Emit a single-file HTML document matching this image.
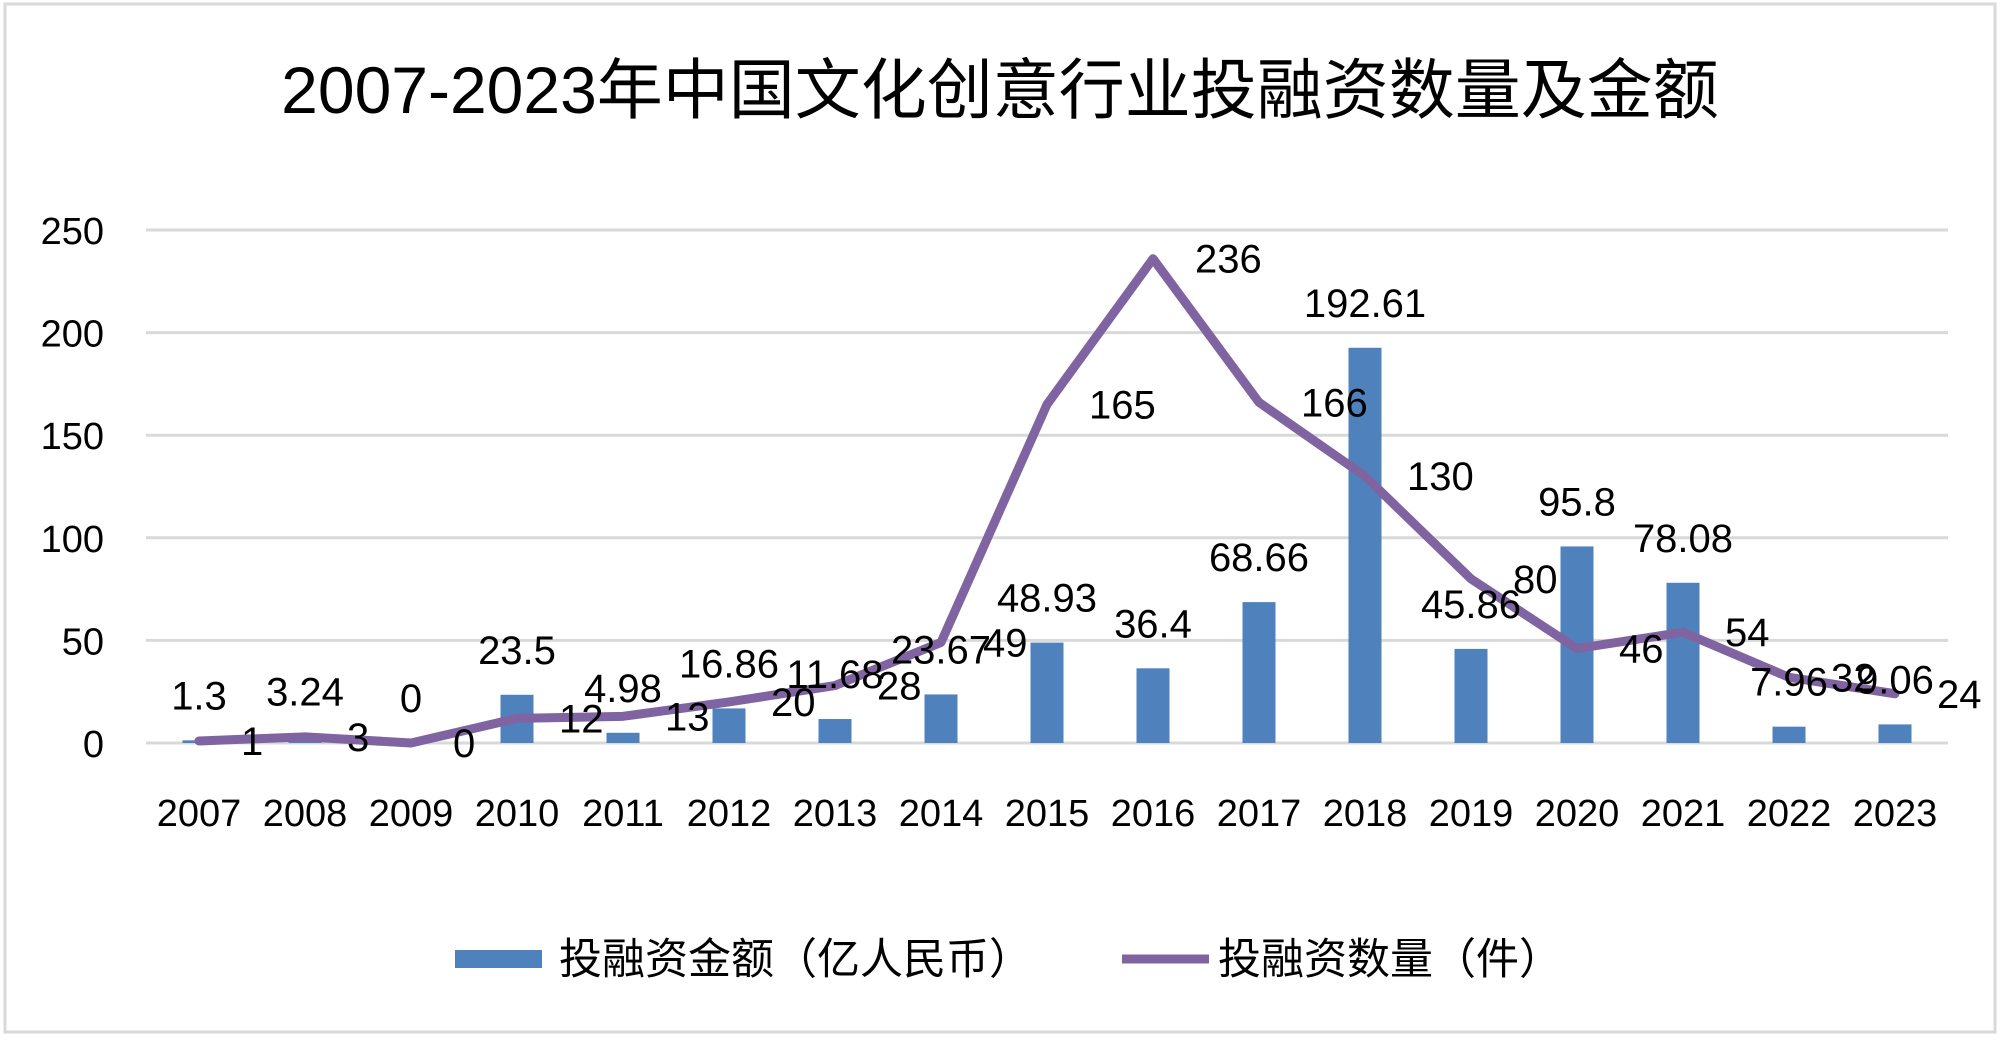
<!DOCTYPE html>
<html><head><meta charset="utf-8"><style>
html,body{margin:0;padding:0;background:#fff;}
svg text{font-family:"Liberation Sans","Noto Sans CJK SC",sans-serif;fill:#000;}
</style></head><body>
<svg id="chart" width="2000" height="1036" viewBox="0 0 2000 1036" xmlns="http://www.w3.org/2000/svg">
<rect x="5" y="4" width="1990" height="1028" fill="#fff" stroke="#d9d9d9" stroke-width="3"/>
<text x="1000" y="113" font-size="66" text-anchor="middle">2007-2023年中国文化创意行业投融资数量及金额</text>
<g id="grid"></g>
<g id="yticks"></g>
<g id="xticks"></g>
<g id="bars"></g>
<g id="line"></g>
<g id="labels"></g>
<g>
<rect x="455" y="950" width="87" height="18" fill="#4F81BD"/>
<text x="559" y="974" font-size="43">投融资金额（亿人民币）</text>
<line x1="1122" y1="959" x2="1209" y2="959" stroke="#8064A2" stroke-width="9"/>
<text x="1218" y="974" font-size="43">投融资数量（件）</text>
</g>
</svg>
<script>
const years = ["2007","2008","2009","2010","2011","2012","2013","2014","2015","2016","2017","2018","2019","2020","2021","2022","2023"];
const amounts = [1.3,3.24,0,23.5,4.98,16.86,11.68,23.67,48.93,36.4,68.66,192.61,45.86,95.8,78.08,7.96,9.06];
const counts = [1,3,0,12,13,20,28,49,165,236,166,130,80,46,54,32,24];
const yTicks = [0,50,100,150,200,250];

const NS="http://www.w3.org/2000/svg";
const L=146,R=1948,T=230,B=743,yMax=250;
const step=(R-L)/years.length;
const xc=i=>L+step*(i+0.5);
const ys=v=>B-(v/yMax)*(B-T);
function mk(tag,attrs,parent,text){const e=document.createElementNS(NS,tag);for(const k in attrs)e.setAttribute(k,attrs[k]);if(text!==undefined)e.textContent=text;parent.appendChild(e);return e;}
const grid=document.getElementById('grid'),yt=document.getElementById('yticks'),xt=document.getElementById('xticks'),bars=document.getElementById('bars'),lineG=document.getElementById('line'),lab=document.getElementById('labels');
yTicks.forEach(t=>{
  const g=mk('line',{x1:L,x2:R,y1:ys(t),y2:ys(t),stroke:'#d9d9d9','stroke-width':3},grid);
  
  
  const tx=mk('text',{x:104,y:ys(t)+14,'font-size':38,'text-anchor':'end'},yt,String(t));
  
  
});
years.forEach((y,i)=>{
  const tx=mk('text',{x:xc(i),y:826,'font-size':38,'text-anchor':'middle'},xt,y);
  
  
  const bw=33;
  const b=mk('rect',{x:xc(i)-bw/2,y:ys(amounts[i]),width:bw,height:B-ys(amounts[i]),fill:'#4F81BD'},bars);
  
  
  const bl=mk('text',{x:xc(i),y:ys(amounts[i])-31,'font-size':40,'text-anchor':'middle'},lab,String(amounts[i]));
  
  
});
const pts=counts.map((c,i)=>xc(i)+','+ys(c)).join(' ');
const pl=mk('polyline',{points:pts,fill:'none',stroke:'#8064A2','stroke-width':9,'stroke-linejoin':'round','stroke-linecap':'round'},lineG);


counts.forEach((c,i)=>{
  const t=mk('text',{x:xc(i)+42,y:ys(c)+14,'font-size':40},lab,String(c));
  
  
});
</script>
</body></html>
